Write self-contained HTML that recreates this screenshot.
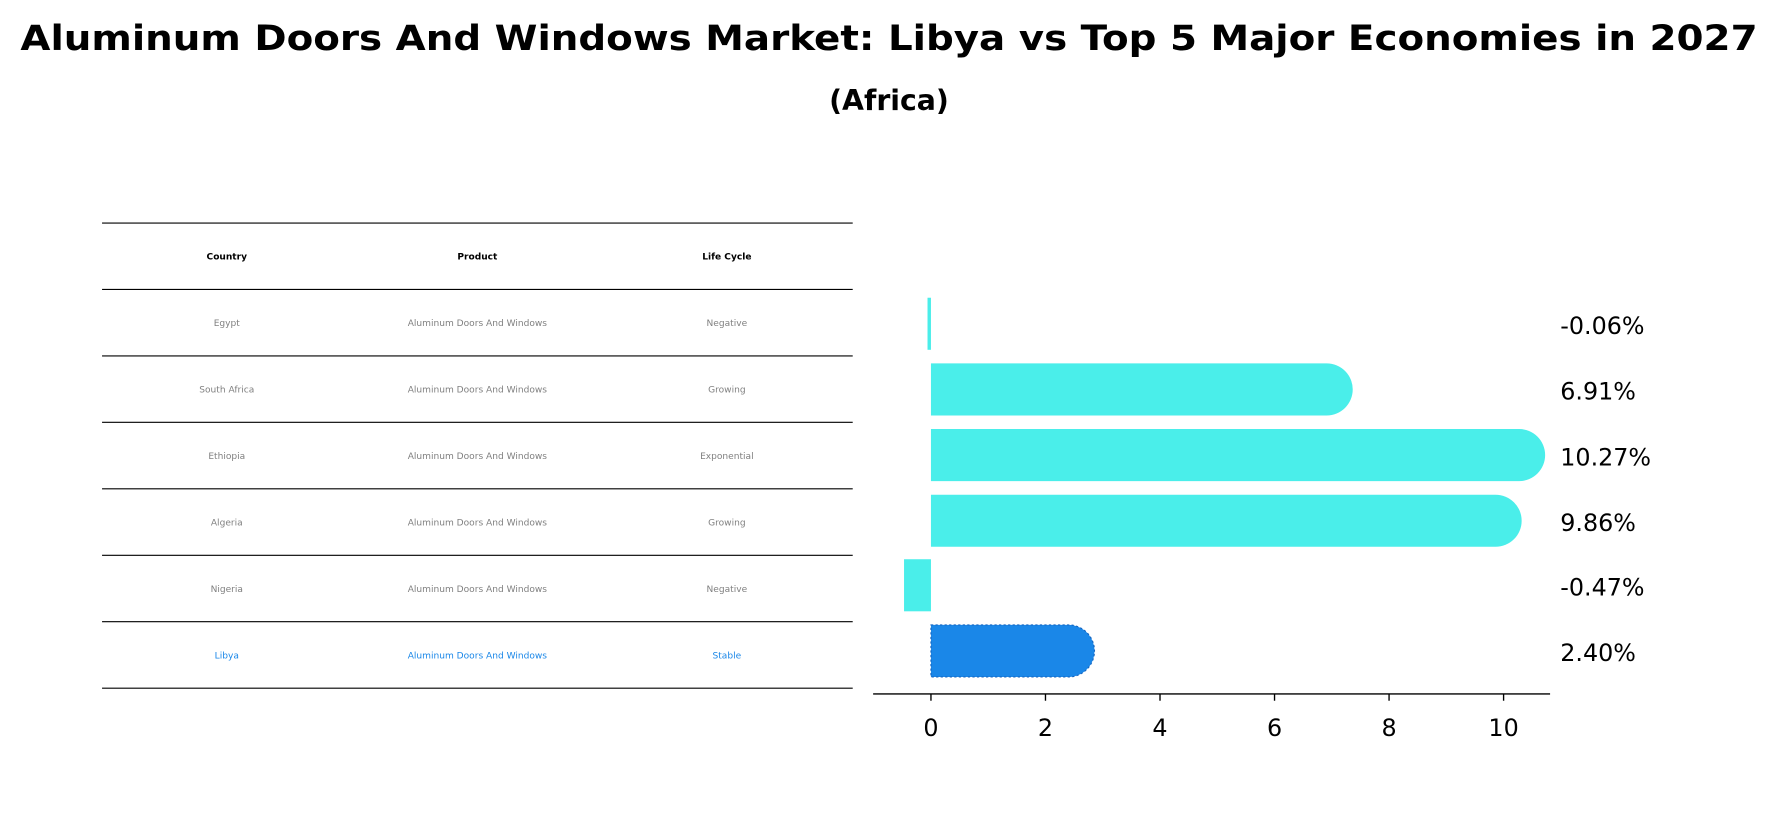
<!DOCTYPE html>
<html><head><meta charset="utf-8"><style>
html,body{margin:0;padding:0;background:#fff;}
svg{display:block;font-family:"DejaVu Sans","Liberation Sans",sans-serif;}
</style></head><body>
<svg id="chart" width="1778" height="823" viewBox="0 0 1568 727" preserveAspectRatio="none" xmlns="http://www.w3.org/2000/svg">
<rect width="1568" height="727" fill="#fff"/>
<text x="784" y="44" text-anchor="middle" font-weight="bold" font-size="31" textLength="1532" lengthAdjust="spacingAndGlyphs">Aluminum Doors And Windows Market: Libya vs Top 5 Major Economies in 2027</text>
<text x="784" y="97" text-anchor="middle" font-weight="bold" font-size="25">(Africa)</text>
<g id="table"></g>
<g id="bars"></g>
</svg>
<script>
const countries=["Egypt","South Africa","Ethiopia","Algeria","Nigeria","Libya"];
const products=["Aluminum Doors And Windows","Aluminum Doors And Windows","Aluminum Doors And Windows","Aluminum Doors And Windows","Aluminum Doors And Windows","Aluminum Doors And Windows"];
const lifeCycles=["Negative","Growing","Exponential","Growing","Negative","Stable"];
const growth=[-0.06,6.91,10.27,9.86,-0.47,2.40];
const xTicks=[0,2,4,6,8,10];
const NS="http://www.w3.org/2000/svg";
function mk(tag,attrs,parent,text){const e=document.createElementNS(NS,tag);for(const k in attrs)e.setAttribute(k,attrs[k]);if(text!==undefined)e.textContent=text;parent.appendChild(e);return e;}
// table
const tg=document.getElementById('table');
const rowTop=197,rowH=58.7,colX=[200,421,641];
for(let i=0;i<=countries.length+1;i++){
  const l=mk('line',{x1:90,x2:752,y1:rowTop+i*rowH,y2:rowTop+i*rowH,stroke:'#000','stroke-width':1},tg);
  
  
}
["Country","Product","Life Cycle"].forEach((h,j)=>{
  const t=mk('text',{x:colX[j],y:rowTop+rowH/2+3,'text-anchor':'middle','font-size':8,'font-weight':'bold'},tg,h);
  
  
});
countries.forEach((c,i)=>{
  const y=rowTop+(i+1)*rowH+rowH/2+3;
  const col=c==="Libya"?"#1a87e8":"#808080";
  [c,products[i],lifeCycles[i]].forEach((v,j)=>{
    const t=mk('text',{x:colX[j],y:y,'text-anchor':'middle','font-size':8,fill:col},tg,v);
    
    
  });
});
// bars
const bg=document.getElementById('bars');
const x0=821,pxPer=50.5;
function X(v){return x0+v*pxPer;}
const yC=[286,344,402,460,517,575],bh=46;
growth.forEach((v,i)=>{
  const col=countries[i]==="Libya"?"#1a87e8":"#4aeeea";
  const y=yC[i]-bh/2;
  let el;
  if(v>0.5){
    const xe=X(v),r=bh/2,xs=x0;
    el=mk('path',{d:`M${xs},${y} L${xe},${y} A${r},${r} 0 0 1 ${xe},${y+bh} L${xs},${y+bh} Z`,fill:col},bg);
  }else{
    const a=Math.min(x0,X(v)),w=Math.max(Math.abs(X(v)-x0),2);
    el=mk('rect',{x:a,y:y,width:w,height:bh,fill:col},bg);
  }
  
  
  if(countries[i]==="Libya"){el.setAttribute('stroke','#1565c0');el.setAttribute('stroke-dasharray','2,2');el.setAttribute('stroke-width','1');}
  const t=mk('text',{x:1376,y:yC[i]+9,'font-size':21},bg,v.toFixed(2)+'%');
  
  
});
const ax=mk('line',{x1:770,x2:1367,y1:613,y2:613,stroke:'#000','stroke-width':1.3},bg);


xTicks.forEach(t=>{
  const tk=mk('line',{x1:X(t),x2:X(t),y1:613,y2:619,stroke:'#000','stroke-width':1.2},bg);
  
  
  const lb=mk('text',{x:X(t),y:650,'text-anchor':'middle','font-size':21},bg,String(t));
  
  
});
</script>
</body></html>
